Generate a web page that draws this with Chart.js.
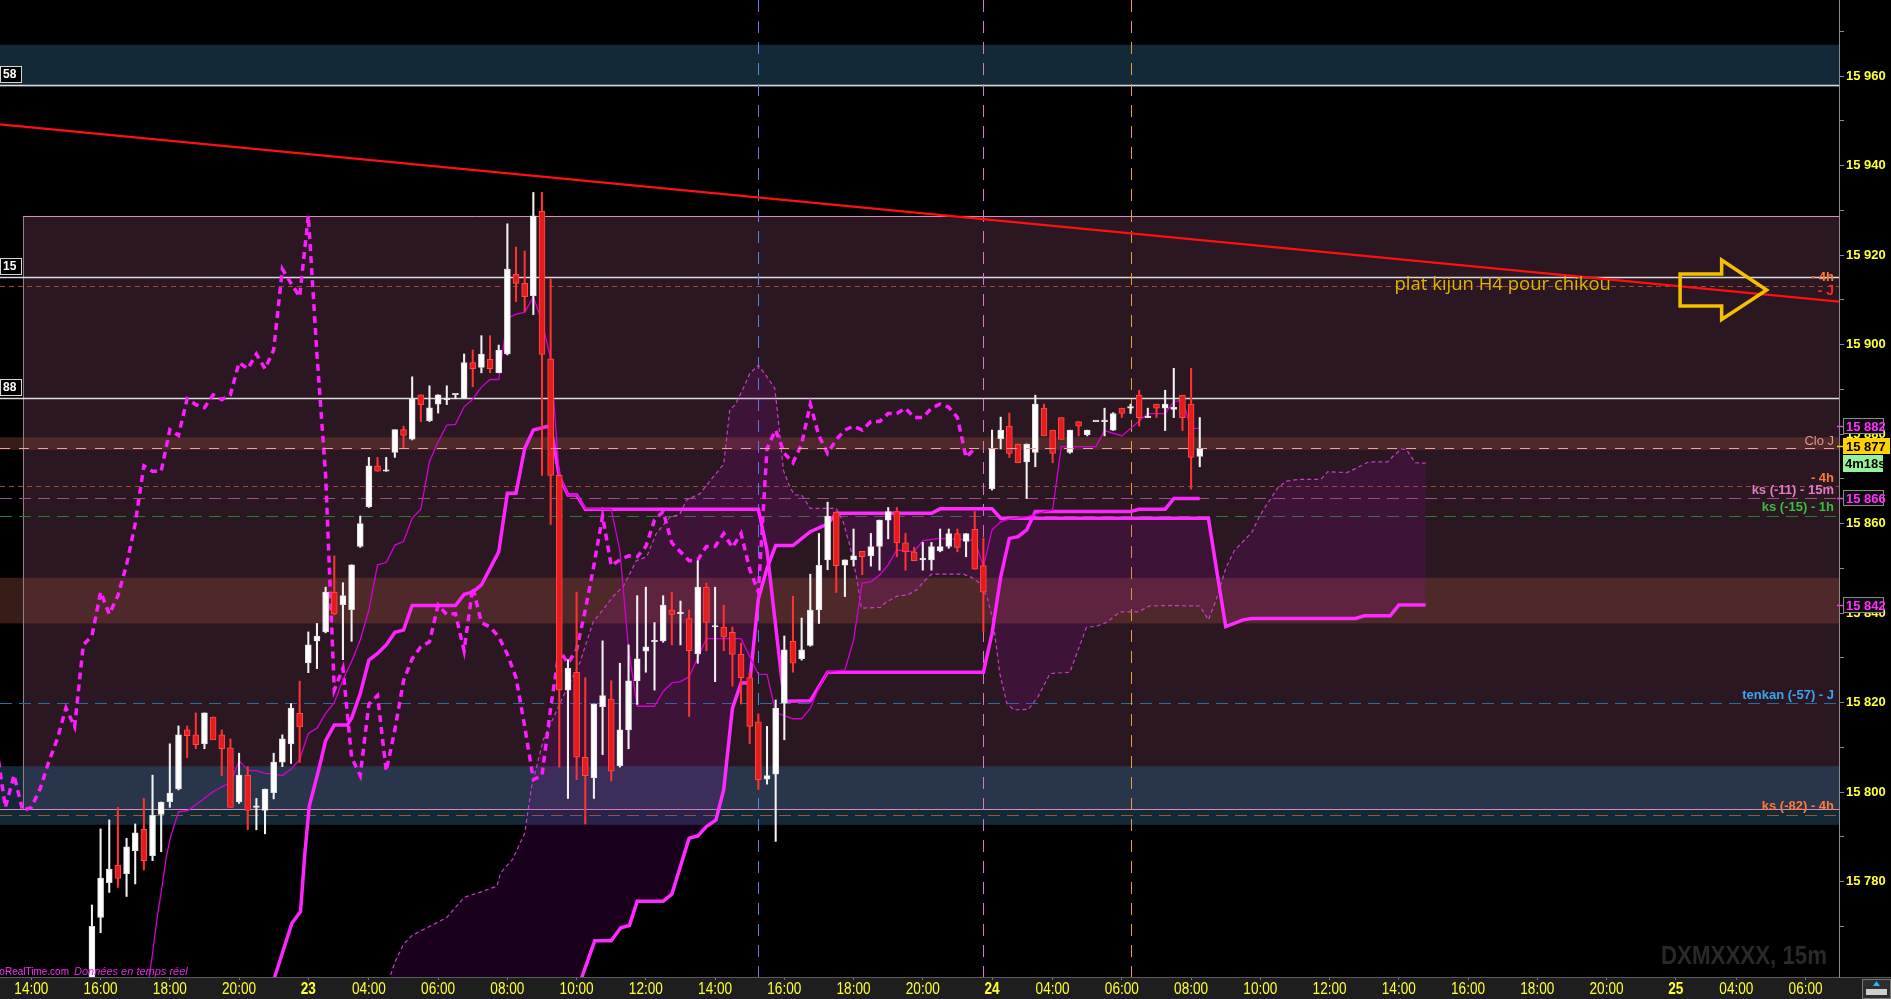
<!DOCTYPE html>
<html lang="fr">
<head>
<meta charset="UTF-8">
<title>DXMXXXX, 15m</title>
<script src="https://cdn.jsdelivr.net/npm/chart.js"></script>
<style>
  html, body { margin: 0; padding: 0; background: #000; overflow: hidden; }
  #chart { display: block; }
</style>
</head>
<body>
<canvas id="chart" width="1891" height="999"></canvas>
<script>
// ---- axes ----
const X_MIN = 0.377, X_MAX = 212.86;      // 15m slots
const Y_MIN = 15758.7, Y_MAX = 15977;
const timeTickSlots = [4, 12, 20, 28, 36, 43, 51, 59, 67, 75, 83, 91, 99, 107, 115, 122, 130, 138, 146, 154, 162, 170, 178, 186, 194, 201, 209];
const timeTickLabels = ['14:00', '16:00', '18:00', '20:00', '23', '04:00', '06:00', '08:00', '10:00', '12:00', '14:00', '16:00', '18:00', '20:00', '24', '04:00', '06:00', '08:00', '10:00', '12:00', '14:00', '16:00', '18:00', '20:00', '25', '04:00', '06:00'];
const dayLabels = ['23', '24', '25'];
const priceLabels = [15780, 15800, 15820, 15840, 15860, 15880, 15900, 15920, 15940, 15960];
const priceMinor = [15770, 15790, 15810, 15830, 15850, 15870, 15890, 15910, 15930, 15950, 15970];

// ---- candles (first candle on slot 11) ----
const FIRST_SLOT = 11;
const open = [15752, 15772, 15779.8, 15783.7, 15781.8, 15786.9, 15791.7, 15785.8, 15795, 15797.9,
  15800.7, 15813.9, 15812.8, 15810.8, 15816.8, 15812.8, 15809.9, 15797.8, 15803.8, 15796.6,
  15795.9, 15799.9, 15806.7, 15810.8, 15817.6, 15828.9, 15833.8, 15835.8, 15844.7, 15841.9,
  15840.8, 15854.9, 15863.8, 15872.9, 15871.7, 15875.9, 15881, 15878.9, 15888.8, 15883,
  15886.7, 15887.7, 15888.8, 15887.9, 15896, 15894.9, 15896.7, 15893.7, 15897.9, 15915.7,
  15913.7, 15910.9, 15929.8, 15896.8, 15870.8, 15822.8, 15826.8, 15807.8, 15803.2, 15819.1,
  15820.8, 15805.9, 15813.9, 15824.9, 15831.5, 15833.6, 15833.8, 15840.7, 15839.9, 15838.8,
  15830.9, 15845.8, 15836.9, 15836.9, 15835.7, 15830.8, 15825.6, 15815.7, 15802.9, 15804,
  15819.9, 15833.7, 15829.8, 15832.8, 15840.7, 15851.9, 15862.6, 15850.7, 15851.9, 15853.8,
  15852.8, 15854.9, 15860.8, 15862.7, 15855.7, 15853.7, 15851.9, 15851.9, 15853.9, 15854.9,
  15857.8, 15856, 15858.7, 15850.6, 15867.8, 15879, 15881.8, 15877.8, 15873.8, 15875.9,
  15885.8, 15880.9, 15883.7, 15875.9, 15882.8, 15879.9, 15882.8, 15882.8, 15880.9, 15885.8,
  15885.8, 15888.7, 15883.7, 15886.7, 15885.8, 15885.5, 15888.7, 15886.7, 15875];
const high = [15774.8, 15791.8, 15793.8, 15796.6, 15789.7, 15792.9, 15798.6, 15803.8, 15797.8, 15810.8,
  15814.8, 15814.8, 15817.7, 15817.7, 15816.8, 15813.9, 15811.9, 15808.7, 15805.7, 15798.6,
  15800.7, 15808.7, 15812.8, 15819.8, 15824.8, 15835.8, 15837.7, 15845.8, 15852.8, 15846.8,
  15850.8, 15861.7, 15874.8, 15874.8, 15874.8, 15881, 15881.8, 15892.8, 15888.8, 15890.8,
  15888.8, 15890.8, 15888.8, 15897.9, 15898.8, 15902, 15902, 15899.9, 15927, 15921.8,
  15920.9, 15934, 15934, 15914.7, 15870.8, 15829.6, 15844.7, 15825.6, 15819.7, 15833.8,
  15824.9, 15828.8, 15832.9, 15843.9, 15845.8, 15837.9, 15843.9, 15844.7, 15842.7, 15840.7,
  15851.7, 15846.7, 15845.8, 15841.8, 15836.9, 15833.3, 15826.8, 15817.5, 15814.7, 15820.6,
  15834.9, 15843.8, 15838.9, 15848.7, 15857.8, 15864.8, 15862.6, 15851.9, 15858.8, 15853.8,
  15857.8, 15860.8, 15863.6, 15863.6, 15857.8, 15854.7, 15855.8, 15855.8, 15858.8, 15858.8,
  15858.8, 15857.8, 15862.7, 15856.8, 15880.9, 15883.8, 15884.7, 15877.8, 15877.8, 15888.7,
  15886.7, 15880.9, 15883.7, 15880.9, 15882.8, 15880.9, 15882.8, 15885.8, 15884.8, 15885.8,
  15886.7, 15889.8, 15885.8, 15886.7, 15889.8, 15894.7, 15888.7, 15894.7, 15883.7];
const low = [15745, 15768.6, 15777.6, 15778.7, 15776.7, 15779.5, 15782.6, 15784.7, 15786.7, 15796.6,
  15800.5, 15807.7, 15809.7, 15809.7, 15811.7, 15803.7, 15796.6, 15797.5, 15791.6, 15791.6,
  15790.7, 15798.5, 15805.7, 15806.4, 15806.6, 15826.7, 15827.6, 15835.6, 15839.6, 15829.6,
  15833.7, 15854.7, 15863.6, 15871.7, 15871.7, 15874.8, 15876.8, 15878.7, 15882.8, 15882.8,
  15884.7, 15886.6, 15887.9, 15887.9, 15890.6, 15893.7, 15893.7, 15893.7, 15897.7, 15909.6,
  15907.4, 15906.7, 15870.8, 15859.8, 15805.6, 15798.6, 15802.8, 15792.9, 15798.6, 15808.4,
  15802.5, 15805.6, 15809.7, 15819.6, 15826.8, 15822.8, 15833.5, 15832.9, 15832.9, 15816.9,
  15828.8, 15831.6, 15824.7, 15831.6, 15823.7, 15819.7, 15810.8, 15800.6, 15801.8, 15789,
  15811.7, 15826.8, 15829.5, 15832.6, 15837.7, 15849.7, 15844.6, 15843.7, 15850.5, 15848.6,
  15850.5, 15849.6, 15856.6, 15852.6, 15849.6, 15851.7, 15849.6, 15849.6, 15853.7, 15854.5,
  15853.7, 15852.6, 15849.8, 15835.8, 15867.5, 15876.7, 15874.8, 15873.6, 15865.6, 15872.7,
  15879.6, 15873.6, 15878.8, 15875.7, 15879.6, 15879.6, 15882.8, 15879.6, 15880.8, 15883.7,
  15884.6, 15881.8, 15883.7, 15883.7, 15880.8, 15883.7, 15880.8, 15867.7, 15872.7];
const close = [15770, 15780.8, 15782.8, 15780.7, 15787.8, 15790.9, 15784.7, 15794.8, 15797.8, 15799.8,
  15812.8, 15812.6, 15810.6, 15817.7, 15811.7, 15809.7, 15796.6, 15803.8, 15795.9, 15796.6,
  15800.7, 15806.7, 15811.9, 15818.8, 15814.6, 15832.9, 15834.9, 15844.7, 15839.8, 15843.9,
  15850.8, 15860, 15872.9, 15871.7, 15871.7, 15881, 15879.7, 15887.9, 15886.6, 15885.9,
  15888.8, 15887.7, 15888.8, 15896, 15894.6, 15897.9, 15894.6, 15898.8, 15916.9, 15913.7,
  15910.7, 15928.8, 15897.8, 15870.8, 15822.8, 15827.7, 15807.8, 15803.7, 15819.7, 15821.6,
  15804.7, 15813.9, 15824.9, 15829.8, 15832.5, 15833.6, 15841.8, 15839.7, 15839.9, 15831.6,
  15845.8, 15837.9, 15836.9, 15834.7, 15830.8, 15825.6, 15814.7, 15802.8, 15803.7, 15818.8,
  15831.8, 15828.8, 15831.8, 15840.7, 15850.7, 15861.7, 15850.6, 15851.9, 15852.8, 15852.6,
  15854.9, 15860.8, 15862.7, 15855.7, 15853.7, 15851.7, 15851.9, 15854.9, 15854.9, 15857.8,
  15854.7, 15857.8, 15849.8, 15844.7, 15876.8, 15880.9, 15875.7, 15873.6, 15877.8, 15886.7,
  15879.6, 15875.7, 15878.8, 15880.9, 15881.8, 15880.9, 15882.8, 15882.8, 15884.6, 15884.6,
  15885.8, 15883.7, 15883.7, 15885.8, 15886.7, 15886, 15883.7, 15874.8, 15876.8];
const CHIKOU_SHIFT = 26;

// ---- ichimoku lines, [slot, price] ----
const tenkan = [[17, 15750], [17.9, 15762.5], [18.5, 15771.4], [19.1, 15778.9], [19.6, 15785.6], [20.1, 15790.1], [21, 15795.6], [22.1, 15795.9], [23.5, 15797.9], [25, 15800.1], [26, 15801.2], [27, 15802.1], [28, 15807], [29.1, 15804.8], [30, 15804.8], [31, 15804.2], [32, 15804.1], [33, 15803.7], [34.1, 15805.3], [35, 15807.3], [36, 15813.1], [37, 15814.3], [38, 15817.6], [39, 15820], [40, 15825.1], [41, 15829.2], [42, 15834], [43, 15840.7], [44, 15850.8], [45, 15851.3], [46, 15855.2], [47, 15856], [48, 15861.2], [49, 15863.2], [50, 15873.9], [51, 15878.3], [52, 15882], [53, 15882.2], [54, 15886.1], [55, 15887.8], [56, 15890.5], [57, 15892.2], [58, 15892.2], [59, 15905.9], [60, 15906.8], [61, 15907.2], [62, 15910.7], [63, 15905.1], [64, 15896.9], [65, 15870.9], [66, 15866.4], [67, 15866.4], [68, 15863.4], [71, 15863.2], [72, 15854], [73, 15832], [74, 15819.2], [76, 15819.2], [77, 15822.5], [78, 15824.4], [79, 15824.7], [80, 15825.8], [82, 15834.3], [86, 15834.3], [88, 15826.3], [89, 15826.3], [90, 15817.8], [92, 15816.4], [93, 15816.4], [94, 15818.7], [95, 15823.4], [96, 15826.9], [98, 15827.3], [99, 15834], [100, 15846.7], [101, 15847], [102, 15848.5], [103, 15850.8], [104, 15854.1], [106, 15853.7], [107, 15856.2], [109, 15856.7], [113, 15856.3], [114, 15850.4], [115, 15858.6], [116, 15860.4], [117, 15861], [119, 15861.5], [121, 15862.7], [122, 15863], [123, 15877.2], [127, 15877.2], [128, 15880.8], [130, 15879.6], [133, 15884.6], [135, 15884.6], [136, 15887.2], [137, 15887.6], [138, 15881.3], [139, 15881.3]];
const kijun = [[30, 15735], [32, 15758], [34.1, 15770.7], [35.1, 15773.3], [35.6, 15786.3], [36.1, 15796.8], [37.2, 15805], [38, 15811.5], [39, 15815], [40.5, 15815], [41, 15816.5], [42, 15822], [43, 15829.5], [44, 15831], [45, 15832.9], [46, 15835.7], [47, 15836.2], [48, 15841.7], [53, 15841.7], [54, 15844.2], [55, 15844.7], [56, 15846.3], [57, 15850], [58, 15853.7], [59, 15866.8], [60, 15866.8], [61, 15876.8], [62, 15880.9], [64, 15881.9], [65, 15870.5], [66, 15866.4], [67, 15866.4], [68, 15863.2], [88, 15863.2], [89, 15854], [90, 15837.1], [91, 15820.3], [94, 15820.4], [96, 15826.8], [114, 15826.8], [115, 15835.5], [116, 15848.1], [117, 15856.7], [118, 15857.1], [119, 15858.6], [120, 15862.7], [131, 15862.7], [132, 15863.2], [135, 15863.2], [136, 15865.6], [139, 15865.6]];
const spanA = [[44.5, 15750], [45.3, 15758], [46, 15762], [47, 15766], [48, 15768], [50, 15770], [52, 15772], [54, 15776.5], [55.8, 15777.6], [57.8, 15779], [58.2, 15781.9], [59.6, 15785], [61, 15790.8], [61.8, 15801.2], [63.15, 15811.7], [65.5, 15821.6], [67.4, 15829.1], [68.9, 15838], [70.1, 15840.9], [71.2, 15843.7], [72.4, 15846], [73.9, 15851.7], [75.1, 15852.6], [76.2, 15857.8], [77.8, 15861.5], [78.9, 15862], [79.7, 15865.3], [81.25, 15866.7], [82.6, 15870], [84, 15873.3], [84.7, 15885.5], [85.3, 15886.5], [86.25, 15890.2], [87, 15893.5], [88, 15895.4], [89, 15892.8], [89.9, 15890.2], [90.3, 15883.2], [90.9, 15871.9], [91.65, 15868.1], [92.2, 15866.4], [93, 15866.4], [94, 15863.4], [97, 15863.4], [97.8, 15860.4], [98.6, 15854.9], [99.4, 15847.4], [99.9, 15841.1], [102.1, 15841.3], [102.6, 15842.2], [104, 15843.8], [105.3, 15844.1], [106.3, 15845.2], [107.1, 15847], [108, 15848.7], [111.7, 15848.7], [112.5, 15848.1], [113.6, 15846.7], [114.4, 15843.7], [115.1, 15838.5], [115.9, 15826.5], [116.7, 15819.9], [117.5, 15818.4], [119.2, 15818.5], [120.3, 15821.3], [121.7, 15826.5], [124, 15826.8], [125.9, 15836.8], [127.1, 15837.1], [128.2, 15837.9], [129.8, 15840.3], [131.9, 15840.3], [133.2, 15841.6], [135.2, 15841.7], [139, 15841.6], [140, 15838.5], [140.9, 15843], [142, 15850], [143, 15854], [144, 15856], [145, 15858], [146, 15862], [147, 15865], [148, 15868], [149, 15869.5], [150.6, 15869.9], [153, 15869.9], [153.8, 15871.6], [156, 15871.4], [157.1, 15872.4], [158.5, 15873.8], [160.7, 15873.8], [161.3, 15875], [162.3, 15876.7], [162.9, 15876.5], [163.9, 15873.6], [165.1, 15873.5]];
const spanB = [[44.5, 15738], [66, 15750], [67.6, 15758.6], [69.1, 15766.8], [71, 15766.8], [72.1, 15769.7], [73.1, 15770.2], [74, 15775.6], [77, 15775.6], [78, 15777.2], [80, 15789.7], [81, 15790.2], [82, 15792.3], [83.1, 15793.8], [84, 15800.6], [85, 15818.7], [86, 15824.4], [87, 15824.4], [88, 15843.2], [89, 15850], [90, 15855.1], [92, 15855.1], [94, 15858.2], [96, 15859.9], [97, 15862.3], [108, 15862.3], [109, 15863.3], [115, 15863.3], [116, 15861.2], [140, 15861.2], [141, 15849], [142, 15837], [144, 15838.5], [145, 15838.8], [157, 15838.8], [158, 15839.4], [161, 15839.4], [162, 15841.8], [165.1, 15841.8]];
const trendLine = [[0.377, 15949.2], [212.86, 15909.6]];

// ---- drawn levels and zones ----
const blueZones = [[15957.6, 15967], [15792.7, 15805.8]];
const brownZones = [[15837.7, 15847.9], [15876.5, 15879.3]];
const boxZone = [3, 15796.2, 15928.7];          // from slot, low, high
const whiteLevels = [15958, 15915, 15888];
const whiteTags = ['58', '15', '88'];
const dashLevels = [15913, 15868.4, 15865.7, 15861.6, 15820, 15795];
const levelNames = ['- 4h', '- J', 'Clo J', '- 4h', 'ks (-11) - 15m', 'ks (-15) - 1h', 'tenkan (-57) - J', 'ks (-82) - 4h'];
const levelNameValues = [15915, 15913, 15878.3, 15868.4, 15865.7, 15861.6, 15820, 15795];
const vLineSlots = [88, 114, 131];
const lastPrice = 15876.8;
const axisTags = [15882, 15877, 15866, 15842];
const axisTagText = ['15 882', '15 877', '15 866', '15 842'];
const timerText = '4m18s';
const noteText = 'plat kijun H4 pour chikou';
const notePos = [161.5, 15913.3];
const arrowPts = [[194.5, 15915.8], [199.3, 15915.8], [199.3, 15918.9], [204.5, 15912.2], [199.3, 15905.6], [199.3, 15908.6], [194.5, 15908.6]];

// ---- build datasets ----
const slots = open.map((_, i) => FIRST_SLOT + i);
const isUp = open.map((o, i) => close[i] >= o);
const bodyData = slots.map((s, i) => ({ x: s, y: [Math.min(open[i], close[i]), Math.max(open[i], close[i])] }));
const wickData = slots.map((s, i) => ({ x: s, y: [low[i], high[i]] }));
const chikouData = close.map((c, i) => ({ x: slots[i] - CHIKOU_SHIFT, y: c }));
const pts = arr => arr.map(([x, y]) => ({ x, y }));

const SANS = '"Liberation Sans", Arial, sans-serif';

function hLine(ctx, x0, x1, y) {
    ctx.beginPath(); ctx.moveTo(x0, Math.round(y) + 0.5); ctx.lineTo(x1, Math.round(y) + 0.5); ctx.stroke();
}

// narrow text: normal font squeezed horizontally
function narrowText(ctx, text, x, y, squeeze, align) {
    const w = ctx.measureText(text).width * squeeze;
    let left = x;
    if (align === 'center') left = x - w / 2;
    if (align === 'right') left = x - w;
    ctx.save();
    ctx.translate(left, y);
    ctx.scale(squeeze, 1);
    ctx.textAlign = 'left';
    ctx.fillText(text, 0, 0);
    ctx.restore();
}

const decorPlugin = {
    id: 'decor',
    beforeDraw(chart) {
        const { ctx, chartArea: a } = chart;
        ctx.save();
        ctx.fillStyle = '#000';
        ctx.fillRect(0, 0, chart.width, chart.height);
        ctx.fillStyle = '#1e1e1e';
        ctx.fillRect(0, a.bottom, chart.width, chart.height - a.bottom);
        ctx.strokeStyle = '#5a5a5a';
        ctx.lineWidth = 1;
        hLine(ctx, 0, chart.width, a.bottom);
        ctx.restore();
    },
    beforeDatasetsDraw(chart) {
        const { ctx, chartArea: a, scales: { x, y } } = chart;
        ctx.save();
        ctx.beginPath(); ctx.rect(a.left, a.top, a.width, a.height); ctx.clip();

        // purple box zone
        const bx = x.getPixelForValue(boxZone[0]);
        const bt = y.getPixelForValue(boxZone[2]), bb = y.getPixelForValue(boxZone[1]);
        ctx.fillStyle = '#2a1722';
        ctx.fillRect(bx, bt, a.right - bx, bb - bt);

        ctx.fillStyle = 'rgba(40, 88, 118, 0.47)';
        blueZones.forEach(([lo, hi]) => {
            const t = y.getPixelForValue(hi), b = y.getPixelForValue(lo);
            ctx.fillRect(a.left, t, a.width, b - t);
        });
        ctx.fillStyle = 'rgba(130, 66, 56, 0.42)';
        brownZones.forEach(([lo, hi]) => {
            const t = y.getPixelForValue(hi), b = y.getPixelForValue(lo);
            ctx.fillRect(a.left, t, a.width, b - t);
        });

        ctx.lineWidth = 1;
        ctx.strokeStyle = '#d88cba';
        hLine(ctx, bx, a.right, bt);
        hLine(ctx, a.left, a.right, bb);
        ctx.strokeStyle = '#8e7f88';
        ctx.beginPath(); ctx.moveTo(Math.round(bx) + 0.5, bt); ctx.lineTo(Math.round(bx) + 0.5, bb); ctx.stroke();

        // white solid levels
        ctx.strokeStyle = '#dcdcdc';
        ctx.lineWidth = 1.3;
        whiteLevels.forEach(v => hLine(ctx, a.left, a.right, y.getPixelForValue(v)));

        // dashed levels
        const dashStyles = [['#9c4a36', [5, 4]], ['#9c4a36', [5, 4]], ['#a04c88', [12, 7]], ['#2c7c2c', [12, 7]], ['#2a6c9e', [12, 7]], ['#8e5a36', [12, 7]]];
        ctx.lineWidth = 1;
        dashLevels.forEach((v, i) => {
            ctx.strokeStyle = dashStyles[i][0];
            ctx.setLineDash(dashStyles[i][1]);
            hLine(ctx, a.left, a.right, y.getPixelForValue(v));
        });

        // vertical dashed session lines
        const vColors = ['#4a8ae6', '#d67ac8', '#e6a032'];
        ctx.setLineDash([12, 9]);
        vLineSlots.forEach((s, i) => {
            const px = Math.round(x.getPixelForValue(s)) + 0.5;
            ctx.strokeStyle = vColors[i];
            ctx.beginPath(); ctx.moveTo(px, a.top); ctx.lineTo(px, a.bottom); ctx.stroke();
        });
        ctx.setLineDash([]);

        // watermark, squeezed to the reference width
        ctx.fillStyle = '#292929';
        ctx.font = 'bold 26px ' + SANS;
        ctx.textBaseline = 'alphabetic';
        const wm = 'DXMXXXX, 15m';
        narrowText(ctx, wm, 1827, 964, 166 / ctx.measureText(wm).width, 'right');
        ctx.restore();
    },
    afterDatasetsDraw(chart) {
        const { ctx, chartArea: a, scales: { x, y } } = chart;
        ctx.save();
        ctx.beginPath(); ctx.rect(a.left, a.top, a.width, a.height); ctx.clip();

        // last price dashed line
        ctx.strokeStyle = '#f0a0a0';
        ctx.lineWidth = 1.2;
        ctx.setLineDash([10, 9]);
        hLine(ctx, a.left, a.right, y.getPixelForValue(lastPrice));
        ctx.setLineDash([]);

        // level names on the right
        const nameStyles = [['#ff7a3a', 0, 'bold 13px '], ['#ff2626', 5, 'bold 14px '], ['#e0948e', 0, '13px '], ['#ff7a3a', -8, 'bold 13px '],
            ['#e47ac8', -8, 'bold 13px '], ['#3cbc3c', -9, 'bold 13px '], ['#3aa4f4', -7, 'bold 13px '], ['#ff7a3a', -8, 'bold 13px ']];
        ctx.textAlign = 'right';
        ctx.textBaseline = 'middle';
        levelNames.forEach((t, i) => {
            const [col, dy, f] = nameStyles[i];
            ctx.font = f + SANS;
            ctx.fillStyle = col;
            ctx.fillText(t, a.right - 5, y.getPixelForValue(levelNameValues[i]) + dy);
        });

        // left cut price tags
        ctx.textAlign = 'left';
        whiteLevels.forEach((v, i) => {
            const yy = Math.round(y.getPixelForValue(v));
            ctx.fillStyle = '#000';
            ctx.fillRect(0, yy - 19, 22, 17);
            ctx.strokeStyle = '#d8d8d8';
            ctx.lineWidth = 1;
            ctx.strokeRect(0.5, yy - 18.5, 21, 16);
            ctx.fillStyle = '#ffffff';
            ctx.font = 'bold 12px ' + SANS;
            ctx.fillText(whiteTags[i], 3, yy - 10);
        });

        // note + arrow
        ctx.font = '18.5px "Open Sans", sans-serif';
        ctx.fillStyle = '#dfb400';
        ctx.textBaseline = 'middle';
        ctx.fillText(noteText, x.getPixelForValue(notePos[0]), y.getPixelForValue(notePos[1]));

        ctx.strokeStyle = '#f5c000';
        ctx.lineWidth = 3.5;
        ctx.lineJoin = 'miter';
        ctx.beginPath();
        arrowPts.forEach(([s, p], i) => {
            const px = x.getPixelForValue(s), py = y.getPixelForValue(p);
            if (i === 0) ctx.moveTo(px, py); else ctx.lineTo(px, py);
        });
        ctx.closePath();
        ctx.stroke();

        // source line bottom left (cut by the left edge)
        ctx.textBaseline = 'alphabetic';
        ctx.font = '10px ' + SANS;
        ctx.fillStyle = '#ff2cff';
        const src = 'ProRealTime.com';
        ctx.fillText(src, 69 - ctx.measureText(src).width, 975);
        ctx.font = 'italic 11px ' + SANS;
        ctx.fillStyle = '#e524e5';
        ctx.fillText('Données en temps réel', 74, 975);
        ctx.restore();
    },
    afterDraw(chart) {
        const { ctx, chartArea: a, scales: { x, y } } = chart;
        ctx.save();

        // time labels, narrow yellow
        ctx.fillStyle = '#ffff33';
        ctx.textBaseline = 'alphabetic';
        x.ticks.forEach((t, i) => {
            const lab = timeTickLabels[i];
            ctx.font = (dayLabels.includes(lab) ? 'bold ' : '') + '16px ' + SANS;
            narrowText(ctx, lab, x.getPixelForValue(t.value), 993.5, 0.85, 'center');
        });

        // price tags on the axis
        ctx.textAlign = 'left';
        ctx.textBaseline = 'middle';
        ctx.font = 'bold 13px ' + SANS;
        const tagStyles = [['#0c0c0c', '#ff30ff', '#8a8a8a', 41], ['#ffd200', '#000', null, 47], ['#0c0c0c', '#ff30ff', '#8a8a8a', 41], ['#0c0c0c', '#ff30ff', '#8a8a8a', 41]];
        axisTags.forEach((v, i) => {
            const [bg, fg, bd, w] = tagStyles[i];
            const yy = Math.round(y.getPixelForValue(v)) + (i === 1 ? -2 : 1);
            ctx.strokeStyle = i === 1 ? '#ffd200' : '#ff30ff';
            ctx.lineWidth = 1.5;
            hLine(ctx, a.right - 2, a.right + 4, yy);
            ctx.fillStyle = bg;
            ctx.fillRect(a.right + 4, yy - 8, w, 16);
            if (bd) { ctx.strokeStyle = bd; ctx.lineWidth = 1; ctx.strokeRect(a.right + 4.5, yy - 7.5, w - 1, 15); }
            ctx.fillStyle = fg;
            ctx.fillText(axisTagText[i], a.right + 7, yy + 1);
            if (i === 1) {
                ctx.fillStyle = '#98f098';
                ctx.fillRect(a.right + 4, yy + 9, 40, 17);
                ctx.fillStyle = '#000';
                ctx.fillText(timerText, a.right + 6, yy + 18);
            }
        });

        // corner box
        ctx.fillStyle = '#2e2e2e';
        ctx.fillRect(1862, 979, 29, 20);
        ctx.strokeStyle = '#777';
        ctx.lineWidth = 1;
        ctx.strokeRect(1862.5, 979.5, 28, 19);
        ctx.fillStyle = '#cfcfcf';
        ctx.fillRect(1866, 989, 21, 6);
        ctx.fillStyle = '#2ab0ff';
        ctx.beginPath(); ctx.moveTo(1876.5, 981); ctx.lineTo(1880, 986); ctx.lineTo(1873, 986); ctx.closePath(); ctx.fill();
        ctx.restore();
    }
};

const chart = new Chart(document.getElementById('chart'), {
    type: 'bar',
    data: {
        datasets: [
            {
                type: 'line', data: pts(spanB), borderColor: '#ff2aff', borderWidth: 3.5,
                pointRadius: 0, fill: false, tension: 0, clip: 0, order: 7
            },
            {
                type: 'line', data: pts(spanA), borderColor: '#c83cc8', borderWidth: 1.2, borderDash: [4, 3],
                pointRadius: 0, tension: 0, clip: 0, order: 8,
                fill: { target: 0, above: 'rgba(190, 0, 205, 0.13)', below: 'rgba(190, 0, 205, 0.13)' }
            },
            {
                type: 'line', data: chikouData, borderColor: '#ff1cff', borderWidth: 3.5, borderDash: [7, 5],
                pointRadius: 0, fill: false, tension: 0, clip: 0, order: 6
            },
            {
                type: 'line', data: pts(kijun), borderColor: '#ff24ff', borderWidth: 3.5,
                pointRadius: 0, fill: false, tension: 0, clip: 0, order: 5
            },
            {
                type: 'line', data: pts(tenkan), borderColor: '#d400d4', borderWidth: 1.3,
                pointRadius: 0, fill: false, tension: 0, clip: 0, order: 4
            },
            {
                type: 'line', data: pts(trendLine), borderColor: '#ff1010', borderWidth: 2.2,
                pointRadius: 0, fill: false, clip: 0, order: 3
            },
            {
                type: 'bar', data: wickData, grouped: false, barThickness: 1.4, borderWidth: 0,
                backgroundColor: isUp.map(u => u ? '#f2f2f2' : '#ff3232'), clip: 0, order: 2
            },
            {
                type: 'bar', data: bodyData, grouped: false, barThickness: 6, minBarLength: 1.5,
                backgroundColor: isUp.map(u => u ? '#ffffff' : '#e61c1c'),
                borderColor: isUp.map(u => u ? '#e0e0e0' : '#ff4a4a'),
                borderWidth: 1, borderSkipped: false, clip: 0, order: 1
            }
        ]
    },
    options: {
        responsive: false,
        animation: false,
        devicePixelRatio: 1,
        layout: { padding: 0 },
        plugins: { legend: { display: false }, tooltip: { enabled: false } },
        scales: {
            x: {
                type: 'linear', min: X_MIN, max: X_MAX, offset: false,
                grid: { drawOnChartArea: false, offset: false, tickLength: 3, color: '#777' },
                border: { display: true, color: '#5a5a5a' },
                afterBuildTicks: s => { s.ticks = timeTickSlots.map(v => ({ value: v })); },
                afterFit: s => { s.height = 22; s.paddingLeft = 0; s.paddingRight = 0; },
                ticks: { display: false, autoSkip: false, maxRotation: 0 }
            },
            y: {
                position: 'right', min: Y_MIN, max: Y_MAX,
                grid: { drawOnChartArea: false, tickLength: 5, color: '#8a8a8a' },
                border: { display: true, color: '#8a8a8a' },
                afterBuildTicks: s => { s.ticks = priceLabels.concat(priceMinor).sort((p, q) => p - q).map(v => ({ value: v })); },
                afterFit: s => { s.width = 52; s.paddingTop = 0; s.paddingBottom = 0; },
                ticks: {
                    padding: 2, color: '#ffff33',
                    font: { family: SANS, size: 13, weight: 'bold' },
                    callback: v => priceLabels.includes(v) ? String(v).replace(/^(\d\d)/, '$1 ') : ''
                }
            }
        }
    },
    plugins: [decorPlugin]
});
</script>
</body>
</html>
